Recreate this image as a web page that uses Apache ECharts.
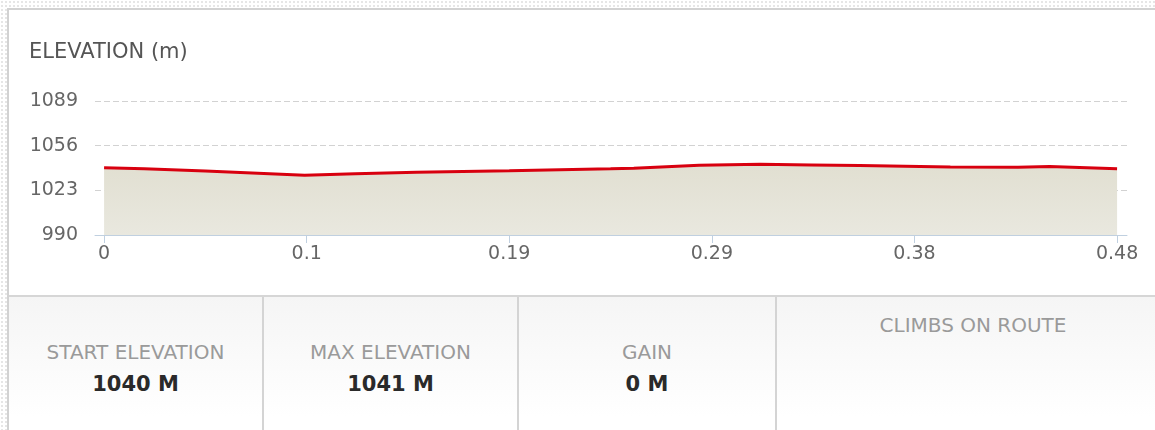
<!DOCTYPE html>
<html>
<head>
<meta charset="utf-8">
<script src="https://cdn.jsdelivr.net/npm/echarts@6/dist/echarts.min.js"></script>
<style>
  html, body { margin: 0; padding: 0; }
  body {
    width: 1155px; height: 430px; position: relative; overflow: hidden;
    background-color: #ffffff;
    background-image: radial-gradient(#e6e6e6 0.8px, transparent 1px);
    background-size: 4px 4px;
    font-family: "DejaVu Sans", "Open Sans", sans-serif;
  }
  #panel {
    position: absolute; left: 7px; top: 8px; width: 1160px; height: 440px;
    border-left: 2px solid #d2d2d2; border-top: 2px solid #d2d2d2;
    background: #ffffff;
  }
  #chart { position: absolute; left: 0; top: 0; width: 1155px; height: 296px; }
  #stats {
    position: absolute; left: 9px; top: 295px; width: 1160px; height: 140px;
    border-top: 2px solid #d6d6d6;
    background: linear-gradient(#f5f5f5, #ffffff 85%);
  }
  .cell { position: absolute; top: 0; height: 140px; text-align: center; }
  .cell + .cell { border-left: 2px solid #d4d4d4; }
  .lab { position: absolute; left: 0; right: 0; color: #9a9a9a; font-size: 20px; line-height: 24px; }
  .val { position: absolute; left: 0; right: 0; color: #2a2a2a; font-size: 21px; line-height: 26px; font-weight: bold; }
</style>
</head>
<body>
<div id="panel"></div>
<div id="chart"></div>
<div id="stats"></div>
<script>
// ---- data ----
const distKm = [0, 0.019, 0.048, 0.095, 0.119, 0.148, 0.192, 0.240, 0.251, 0.282, 0.311, 0.335, 0.358, 0.401, 0.433, 0.448, 0.48];
const elevM  = [1039.6, 1038.9, 1037.2, 1034.2, 1035.2, 1036.4, 1037.4, 1038.9, 1039.4, 1041.6, 1042.3, 1041.8, 1041.3, 1040.3, 1040.1, 1040.6, 1038.9];
const xTicks = [0, 0.096, 0.192, 0.288, 0.384, 0.48];
const yMin = 990, yMax = 1089, yStep = 33;
const chartTitle = "ELEVATION (m)";
const statLabels = ["START ELEVATION", "MAX ELEVATION", "GAIN", "CLIMBS ON ROUTE"];
const statValues = ["1040 M", "1041 M", "0 M", ""];

// ---- stats row ----
const cellEdges = [0, 253, 508, 766, 1160];
const statsEl = document.getElementById('stats');
statLabels.forEach((lab, i) => {
  const c = document.createElement('div');
  c.className = 'cell';
  c.style.left = cellEdges[i] + 'px';
  c.style.width = (cellEdges[i + 1] - cellEdges[i] - (i ? 2 : 0)) + 'px';
  const l = document.createElement('div');
  l.className = 'lab';
  l.textContent = lab;
  l.style.top = (statValues[i] ? 43 : 16) + 'px';
  c.appendChild(l);
  if (statValues[i]) {
    const v = document.createElement('div');
    v.className = 'val';
    v.textContent = statValues[i];
    v.style.top = 74 + 'px';
    c.appendChild(v);
  }
  statsEl.appendChild(c);
});

// ---- chart ----
const chart = echarts.init(document.getElementById('chart'), null, { renderer: 'canvas' });
const fontFam = '"DejaVu Sans", "Open Sans", sans-serif';
chart.setOption({
  animation: false,
  title: {
    text: chartTitle, left: 24, top: 37,
    textStyle: { fontFamily: fontFam, fontSize: 21, fontWeight: 'normal', color: '#555555' }
  },
  grid: { left: 95, right: 28, top: 101, bottom: 61, containLabel: false },
  xAxis: {
    type: 'value', min: -0.0043, max: 0.4847,
    axisLine: { show: true, lineStyle: { color: '#c0d0e0', width: 1 } },
    axisTick: { show: true, length: 8, customValues: xTicks, lineStyle: { color: '#c0d0e0' } },
    axisLabel: {
      customValues: xTicks, margin: 10,
      fontFamily: fontFam, fontSize: 19, color: '#666666',
      formatter: v => String(Math.round(v * 100) / 100)
    },
    splitLine: { show: false }
  },
  yAxis: {
    type: 'value', min: yMin, max: yMax, interval: yStep,
    axisLine: { show: false }, axisTick: { show: false },
    axisLabel: { margin: 17, fontFamily: fontFam, fontSize: 19, color: '#666666', formatter: v => String(v) },
    splitLine: { show: true, lineStyle: { color: '#d2d2d2', type: [6, 3], width: 1 } }
  },
  series: [{
    type: 'line',
    data: distKm.map((d, i) => [d, elevM[i]]),
    showSymbol: false,
    lineStyle: { color: '#d8000f', width: 3 },
    areaStyle: {
      opacity: 1,
      color: new echarts.graphic.LinearGradient(0, 0, 0, 1, [
        { offset: 0, color: '#e1dfd1' },
        { offset: 1, color: '#e9e8df' }
      ])
    }
  }]
});
</script>
</body>
</html>
